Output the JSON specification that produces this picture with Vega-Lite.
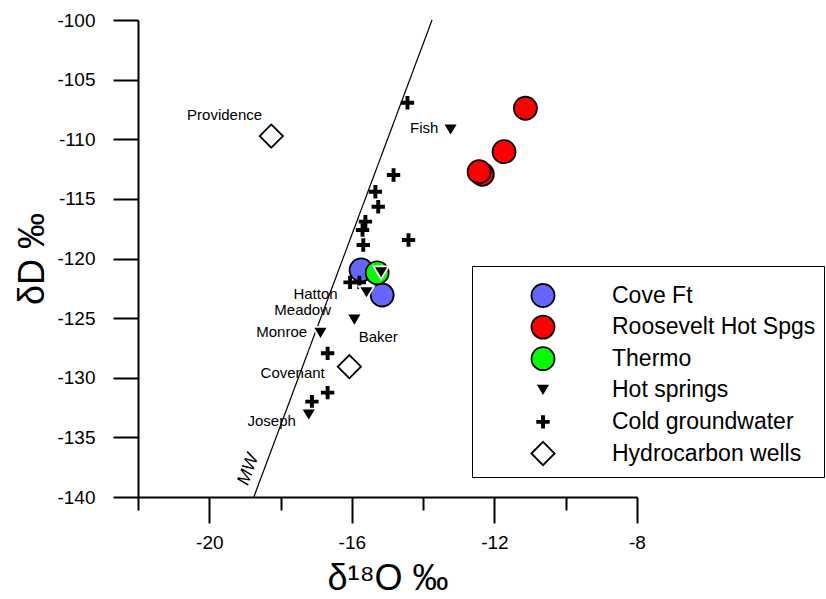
{
  "$schema": "https://vega.github.io/schema/vega-lite/v6.json",
  "width": 499,
  "height": 477,
  "autosize": {"type": "none"},
  "padding": {"left": 138, "top": 20, "right": 189, "bottom": 102},
  "background": "white",
  "config": {
    "view": {"stroke": null},
    "font": "Liberation Sans",
    "axis": {
      "domainColor": "black", "domainWidth": 2, "tickColor": "black", "tickWidth": 2,
      "labelColor": "black", "titleColor": "black", "grid": false, "labelFlush": false,
      "labelOverlap": false, "labelFont": "Liberation Sans", "titleFont": "Liberation Sans",
      "titleFontWeight": "normal", "labelFontSize": 19, "titleFontSize": 36
    },
    "legend": {"strokeColor": "black", "fillColor": "white", "padding": 8, "symbolOffset": 50.5, "labelOffset": 56.5, "labelFontSize": 23, "labelFont": "Liberation Sans", "labelColor": "black", "rowPadding": 0.6, "gridAlign": "all", "symbolStrokeWidth": 1.8, "symbolSize": 530, "labelLimit": 400, "cornerRadius": 0, "titleFontSize": 1, "titlePadding": 8, "titleColor": "white"}
  },
  "datasets": {
    "points": [
      {"x": -15.74, "y": -120.96, "group": "Cove Ft"},
      {"x": -15.15, "y": -123.06, "group": "Cove Ft"},
      {"x": -11.13, "y": -107.4, "group": "Roosevelt Hot Spgs"},
      {"x": -11.73, "y": -111.04, "group": "Roosevelt Hot Spgs"},
      {"x": -12.34, "y": -112.94, "group": "Roosevelt Hot Spgs"},
      {"x": -12.43, "y": -112.72, "group": "Roosevelt Hot Spgs"},
      {"x": -15.29, "y": -121.2, "group": "Thermo"},
      {"x": -14.44, "y": -106.94, "group": "Cold groundwater"},
      {"x": -14.83, "y": -113.0, "group": "Cold groundwater"},
      {"x": -15.34, "y": -114.4, "group": "Cold groundwater"},
      {"x": -15.26, "y": -115.66, "group": "Cold groundwater"},
      {"x": -15.62, "y": -116.91, "group": "Cold groundwater"},
      {"x": -15.7, "y": -117.61, "group": "Cold groundwater"},
      {"x": -15.68, "y": -118.87, "group": "Cold groundwater"},
      {"x": -14.41, "y": -118.45, "group": "Cold groundwater"},
      {"x": -16.05, "y": -122.0, "group": "Cold groundwater"},
      {"x": -15.79, "y": -122.0, "group": "Cold groundwater"},
      {"x": -16.68, "y": -127.95, "group": "Cold groundwater"},
      {"x": -16.68, "y": -131.25, "group": "Cold groundwater"},
      {"x": -17.12, "y": -132.0, "group": "Cold groundwater"},
      {"x": -13.23, "y": -109.22, "group": "Hot springs"},
      {"x": -15.18, "y": -121.19, "group": "Hot springs"},
      {"x": -15.59, "y": -122.87, "group": "Hot springs"},
      {"x": -15.93, "y": -125.16, "group": "Hot springs"},
      {"x": -16.88, "y": -126.27, "group": "Hot springs"},
      {"x": -17.21, "y": -133.12, "group": "Hot springs"},
      {"x": -18.26, "y": -109.73, "group": "Hydrocarbon wells"},
      {"x": -16.07, "y": -129.07, "group": "Hydrocarbon wells"}
    ],
    "labels": [
      {"x": -19.57, "y": -107.97, "label": "Providence"},
      {"x": -13.97, "y": -109.06, "label": "Fish"},
      {"x": -17.02, "y": -123.0, "label": "Hatton"},
      {"x": -17.38, "y": -124.35, "label": "Meadow"},
      {"x": -17.97, "y": -126.16, "label": "Monroe"},
      {"x": -15.26, "y": -126.58, "label": "Baker"},
      {"x": -17.66, "y": -129.6, "label": "Covenant"},
      {"x": -18.25, "y": -133.63, "label": "Joseph"}
    ],
    "mwline": [
      {"x": -18.75, "y": -140, "xe": -13.75, "ye": -100}
    ],
    "mwlabel": [
      {"x": -18.9, "y": -137.7, "label": "MW"}
    ]
  },
  "layer": [
    {
      "data": {"name": "mwline"},
      "mark": {"type": "rule", "color": "black", "strokeWidth": 1.2},
      "encoding": {
        "x": {
          "field": "x", "type": "quantitative",
          "scale": {"domain": [-22, -8], "nice": false, "zero": false},
          "axis": {
            "title": "δ¹⁸O ‰",
            "values": [-22, -20, -18, -16, -14, -12, -10, -8],
            "labelExpr": "datum.value % 4 == 0 ? '' + datum.value : ''",
            "tickSize": {"condition": {"test": "datum.value % 4 == 0", "value": 26}, "value": 13},
            "labelPadding": 10,
            "titlePadding": 9
          }
        },
        "y": {
          "field": "y", "type": "quantitative",
          "scale": {"domain": [-140, -100], "nice": false, "zero": false},
          "axis": {
            "title": "δD ‰",
            "values": [-140, -135, -130, -125, -120, -115, -110, -105, -100],
            "labelExpr": "'' + datum.value",
            "tickSize": 25,
            "labelPadding": 18,
            "titlePadding": 5
          }
        },
        "x2": {"field": "xe"},
        "y2": {"field": "ye"}
      }
    },
    {
      "data": {"name": "points"},
      "mark": {"type": "point", "filled": true, "strokeWidth": 1.8, "opacity": 1, "size": 530},
      "encoding": {
        "x": {"field": "x", "type": "quantitative"},
        "y": {"field": "y", "type": "quantitative"},
        "fill": {
          "field": "group", "type": "nominal",
          "scale": {"domain": ["Cove Ft", "Roosevelt Hot Spgs", "Thermo", "Hot springs", "Cold groundwater", "Hydrocarbon wells"],
                    "range": ["#6666ff", "#ff0000", "#00ff00", "#000000", "#000000", "#ffffff"]},
          "legend": {"orient": "none", "legendX": 334, "legendY": 246, "title": " "}
        },
        "stroke": {
          "field": "group", "type": "nominal",
          "scale": {"domain": ["Cove Ft", "Roosevelt Hot Spgs", "Thermo", "Hot springs", "Cold groundwater", "Hydrocarbon wells"],
                    "range": ["#000000", "#000000", "#000000", "#ffffff", "transparent", "#000000"]},
          "legend": {"orient": "none", "legendX": 334, "legendY": 246, "title": " "}
        },
        "shape": {
          "field": "group", "type": "nominal",
          "scale": {"domain": ["Cove Ft", "Roosevelt Hot Spgs", "Thermo", "Hot springs", "Cold groundwater", "Hydrocarbon wells"],
                    "range": [
                      "circle",
                      "circle",
                      "circle",
                      "M-0.66,-0.55L0.66,-0.55L0,0.55Z",
                      "M-0.58,-0.17H-0.17V-0.58H0.17V-0.17H0.58V0.17H0.17V0.58H-0.17V0.17H-0.58Z",
                      "M-1.008,0L0,-1.008L1.008,0L0,1.008Z"
                    ]},
          "legend": {"orient": "none", "legendX": 334, "legendY": 246, "title": " "}
        }
      }
    },
    {
      "data": {"name": "labels"},
      "mark": {"type": "text", "fontSize": 15, "font": "Liberation Sans", "color": "black", "align": "center", "baseline": "middle"},
      "encoding": {
        "x": {"field": "x", "type": "quantitative"},
        "y": {"field": "y", "type": "quantitative"},
        "text": {"field": "label"}
      }
    },
    {
      "data": {"name": "mwlabel"},
      "mark": {"type": "text", "fontSize": 18, "font": "Liberation Sans", "fontStyle": "italic", "color": "black", "align": "center", "baseline": "middle", "angle": 290},
      "encoding": {
        "x": {"field": "x", "type": "quantitative"},
        "y": {"field": "y", "type": "quantitative"},
        "text": {"field": "label"}
      }
    }
  ]
}
